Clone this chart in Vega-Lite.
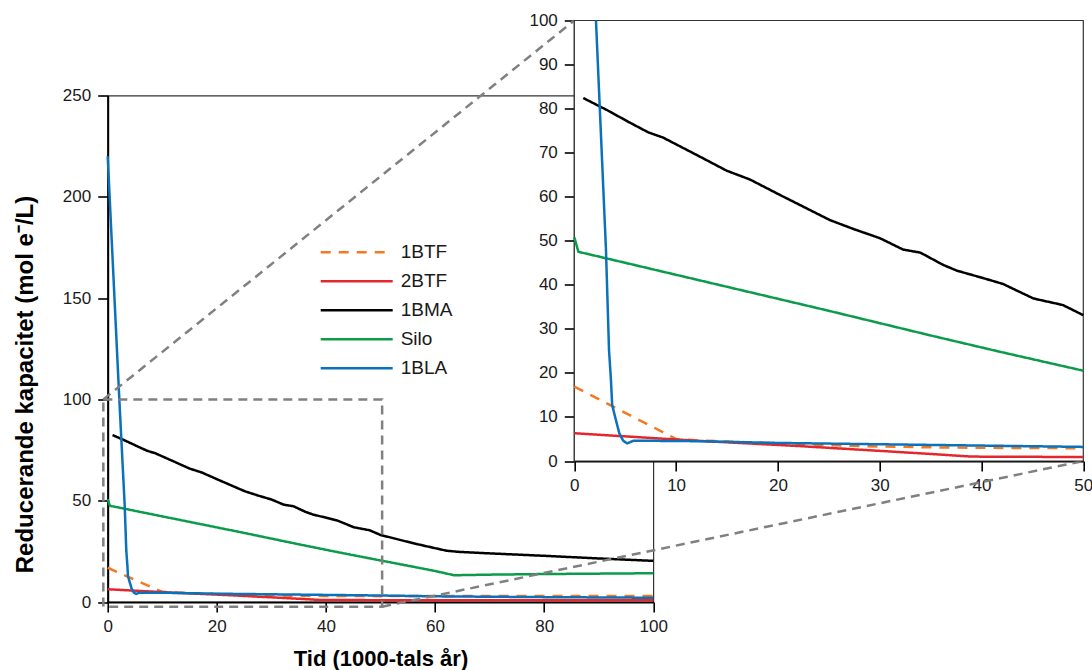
{
  "$schema": "https://vega.github.io/schema/vega-lite/v6.json",
  "width": 545.6,
  "height": 506.5,
  "autosize": {"type": "none"},
  "padding": {"left": 107.7, "top": 95.5, "right": 438.7, "bottom": 68},
  "background": "white",
  "config": {
    "font": "Liberation Sans",
    "view": {"stroke": "#333333", "strokeWidth": 1.2},
    "axis": {
      "grid": false,
      "labelFlush": false,
      "labelOverlap": false,
      "domainColor": "#000000",
      "domainWidth": 2,
      "tickColor": "#000000",
      "tickWidth": 1.6,
      "tickSize": 10,
      "labelFont": "Liberation Sans",
      "labelFontSize": 17,
      "labelColor": "#1a1a1a",
      "titleFont": "Liberation Sans",
      "titleFontSize": 22,
      "titleFontWeight": "bold",
      "titleColor": "#000000",
      "zindex": 0
    }
  },
  "datasets": {
    "curves": [
      {"s": "1BTF", "t": 0, "v": 16.9}, {"s": "1BTF", "t": 10, "v": 5.0}, {"s": "1BTF", "t": 12, "v": 4.7},
      {"s": "1BTF", "t": 15, "v": 4.4}, {"s": "1BTF", "t": 20, "v": 4.0}, {"s": "1BTF", "t": 25, "v": 3.6},
      {"s": "1BTF", "t": 30, "v": 3.3}, {"s": "1BTF", "t": 35, "v": 3.1}, {"s": "1BTF", "t": 40, "v": 3.0},
      {"s": "1BTF", "t": 50, "v": 2.9}, {"s": "1BTF", "t": 60, "v": 3.0}, {"s": "1BTF", "t": 80, "v": 3.0},
      {"s": "1BTF", "t": 100, "v": 3.0},
      {"s": "2BTF", "t": 0, "v": 6.3}, {"s": "2BTF", "t": 12, "v": 4.6}, {"s": "2BTF", "t": 22, "v": 3.4},
      {"s": "2BTF", "t": 30, "v": 2.3}, {"s": "2BTF", "t": 35, "v": 1.6}, {"s": "2BTF", "t": 39, "v": 1.0},
      {"s": "2BTF", "t": 50, "v": 0.9}, {"s": "2BTF", "t": 70, "v": 0.9}, {"s": "2BTF", "t": 100, "v": 0.9},
      {"s": "1BMA", "t": 0.88, "v": 82.4}, {"s": "1BMA", "t": 3.18, "v": 79.7}, {"s": "1BMA", "t": 5.47, "v": 76.8},
      {"s": "1BMA", "t": 7.27, "v": 74.6}, {"s": "1BMA", "t": 8.74, "v": 73.4}, {"s": "1BMA", "t": 12.0, "v": 69.5},
      {"s": "1BMA", "t": 14.97, "v": 65.9}, {"s": "1BMA", "t": 17.26, "v": 63.9}, {"s": "1BMA", "t": 20.2, "v": 60.4},
      {"s": "1BMA", "t": 25.1, "v": 54.7}, {"s": "1BMA", "t": 27.5, "v": 52.6}, {"s": "1BMA", "t": 30.0, "v": 50.6},
      {"s": "1BMA", "t": 32.3, "v": 48.0}, {"s": "1BMA", "t": 34.0, "v": 47.3}, {"s": "1BMA", "t": 36.25, "v": 44.5},
      {"s": "1BMA", "t": 37.6, "v": 43.2}, {"s": "1BMA", "t": 40.2, "v": 41.5}, {"s": "1BMA", "t": 42.1, "v": 40.2},
      {"s": "1BMA", "t": 45.1, "v": 36.9}, {"s": "1BMA", "t": 48.0, "v": 35.4}, {"s": "1BMA", "t": 50, "v": 33.1},
      {"s": "1BMA", "t": 56, "v": 29.0}, {"s": "1BMA", "t": 62.1, "v": 25.3}, {"s": "1BMA", "t": 64.6, "v": 24.7},
      {"s": "1BMA", "t": 70, "v": 24.0}, {"s": "1BMA", "t": 80, "v": 22.8}, {"s": "1BMA", "t": 90, "v": 21.5},
      {"s": "1BMA", "t": 100, "v": 20.3},
      {"s": "Silo", "t": 0, "v": 50.8}, {"s": "Silo", "t": 0.4, "v": 47.5}, {"s": "Silo", "t": 12.7, "v": 40.8},
      {"s": "Silo", "t": 25, "v": 34.1}, {"s": "Silo", "t": 35, "v": 28.5}, {"s": "Silo", "t": 41.8, "v": 24.8},
      {"s": "Silo", "t": 50, "v": 20.5}, {"s": "Silo", "t": 56, "v": 17.4}, {"s": "Silo", "t": 60, "v": 15.3},
      {"s": "Silo", "t": 63.5, "v": 13.2}, {"s": "Silo", "t": 70, "v": 13.5}, {"s": "Silo", "t": 80, "v": 13.8},
      {"s": "Silo", "t": 90, "v": 14.0}, {"s": "Silo", "t": 100, "v": 14.2},
      {"s": "1BLA", "t": 0, "v": 220}, {"s": "1BLA", "t": 2.13, "v": 100}, {"s": "1BLA", "t": 3.11, "v": 48},
      {"s": "1BLA", "t": 3.41, "v": 25.2}, {"s": "1BLA", "t": 3.6, "v": 18.4}, {"s": "1BLA", "t": 3.72, "v": 12.7},
      {"s": "1BLA", "t": 4.0, "v": 10.1}, {"s": "1BLA", "t": 4.42, "v": 6.3}, {"s": "1BLA", "t": 4.8, "v": 4.6},
      {"s": "1BLA", "t": 5.2, "v": 4.0}, {"s": "1BLA", "t": 5.8, "v": 4.6}, {"s": "1BLA", "t": 6.8, "v": 4.6},
      {"s": "1BLA", "t": 12, "v": 4.5}, {"s": "1BLA", "t": 20, "v": 4.1}, {"s": "1BLA", "t": 30, "v": 3.8},
      {"s": "1BLA", "t": 40, "v": 3.5}, {"s": "1BLA", "t": 50, "v": 3.2}, {"s": "1BLA", "t": 60, "v": 2.8},
      {"s": "1BLA", "t": 80, "v": 2.4}, {"s": "1BLA", "t": 100, "v": 2.1}
    ]
  },
  "resolve": {"scale": {"x": "independent", "y": "independent"}},
  "layer": [
    {
      "layer": [
        {
          "data": {"name": "curves"},
          "mark": {"type": "line", "strokeWidth": 2.5},
          "encoding": {
            "x": {
              "field": "t", "type": "quantitative",
              "scale": {"domain": [0, 100], "nice": false, "zero": false},
              "axis": {
                "orient": "bottom",
                "values": [0, 20, 40, 60, 80, 100],
                "labelPadding": 6,
                "title": "Tid (1000-tals år)",
                "titleBaseline": "alphabetic",
                "titleY": 63.5
              }
            },
            "y": {
              "field": "v", "type": "quantitative",
              "scale": {"domain": [0, 250], "nice": false},
              "axis": {
                "orient": "left",
                "values": [0, 50, 100, 150, 200, 250],
                "labelPadding": 7,
                "title": "Reducerande kapacitet (mol e⁻/L)",
                "titleFontSize": 24,
                "titleBaseline": "alphabetic",
                "titleX": -75,
                "titleY": 288.5
              }
            },
            "color": {
              "field": "s", "type": "nominal",
              "scale": {
                "domain": ["1BTF", "2BTF", "1BMA", "Silo", "1BLA"],
                "range": ["#F47920", "#E5272D", "#000000", "#0B9B4A", "#0A72BB"]
              },
              "legend": {
                "orient": "none", "legendX": 211.5, "legendY": 142.3, "padding": 0,
                "title": null, "symbolType": "stroke", "symbolSize": 5184, "symbolStrokeWidth": 2.5,
                "labelFontSize": 19, "labelFont": "Liberation Sans", "labelColor": "#1a1a1a",
                "labelOffset": 6.5, "rowPadding": 0, "clipHeight": 28.7, "symbolOffset": 0
              }
            },
            "strokeDash": {
              "field": "s", "type": "nominal",
              "scale": {
                "domain": ["1BTF", "2BTF", "1BMA", "Silo", "1BLA"],
                "range": [[10, 8], [1, 0], [1, 0], [1, 0], [1, 0]]
              },
              "legend": {
                "orient": "none", "legendX": 211.5, "legendY": 142.3, "padding": 0,
                "title": null, "symbolType": "stroke", "symbolSize": 5184, "symbolStrokeWidth": 2.5,
                "labelFontSize": 19, "labelFont": "Liberation Sans", "labelColor": "#1a1a1a",
                "labelOffset": 6.5, "rowPadding": 0, "clipHeight": 28.7, "symbolOffset": 0
              }
            }
          }
        },
        {
          "data": {"values": [{"x0": -0.8, "x1": 50.3, "y0": -2.3, "y1": 100}]},
          "mark": {"type": "rect", "fill": null, "stroke": "#808080", "strokeWidth": 2.5, "strokeDash": [9, 6]},
          "encoding": {
            "x": {"field": "x0", "type": "quantitative"},
            "x2": {"field": "x1"},
            "y": {"field": "y0", "type": "quantitative"},
            "y2": {"field": "y1"}
          }
        },
        {
          "data": {"values": [
            {"xa": -0.8, "ya": 100, "xb": 85.5, "yb": 287.0},
            {"xa": 50.3, "ya": -2.3, "xb": 178.8, "yb": 69.6}
          ]},
          "mark": {"type": "rule", "stroke": "#808080", "strokeWidth": 2.5, "strokeDash": [9, 6]},
          "encoding": {
            "x": {"field": "xa", "type": "quantitative"},
            "x2": {"field": "xb"},
            "y": {"field": "ya", "type": "quantitative"},
            "y2": {"field": "yb"}
          }
        }
      ]
    },
    {
      "layer": [
        {
          "data": {"values": [{"x0": 0, "x1": 50, "y0": 0, "y1": 100}]},
          "mark": {"type": "rect", "fill": "white", "stroke": "#333333", "strokeWidth": 1.2},
          "encoding": {
            "x": {
              "field": "x0", "type": "quantitative",
              "scale": {"domain": [0, 50], "range": [466.6, 975.6], "nice": false, "zero": false},
              "axis": {
                "orient": "bottom", "offset": -141,
                "values": [0, 10, 20, 30, 40, 50],
                "labelPadding": 6, "title": null
              }
            },
            "x2": {"field": "x1"},
            "y": {
              "field": "y0", "type": "quantitative",
              "scale": {"domain": [0, 100], "range": [365.5, -75], "nice": false},
              "axis": {
                "orient": "left", "offset": -466.6,
                "values": [0, 10, 20, 30, 40, 50, 60, 70, 80, 90, 100],
                "labelPadding": 7, "title": null
              }
            },
            "y2": {"field": "y1"}
          }
        },
        {
          "data": {"name": "curves"},
          "transform": [{"filter": "datum.t <= 50 && datum.v <= 100"}],
          "mark": {"type": "line", "strokeWidth": 2.5},
          "encoding": {
            "x": {"field": "t", "type": "quantitative"},
            "y": {"field": "v", "type": "quantitative"},
            "color": {"field": "s", "type": "nominal", "legend": null},
            "strokeDash": {"field": "s", "type": "nominal", "legend": null}
          }
        }
      ]
    }
  ]
}
